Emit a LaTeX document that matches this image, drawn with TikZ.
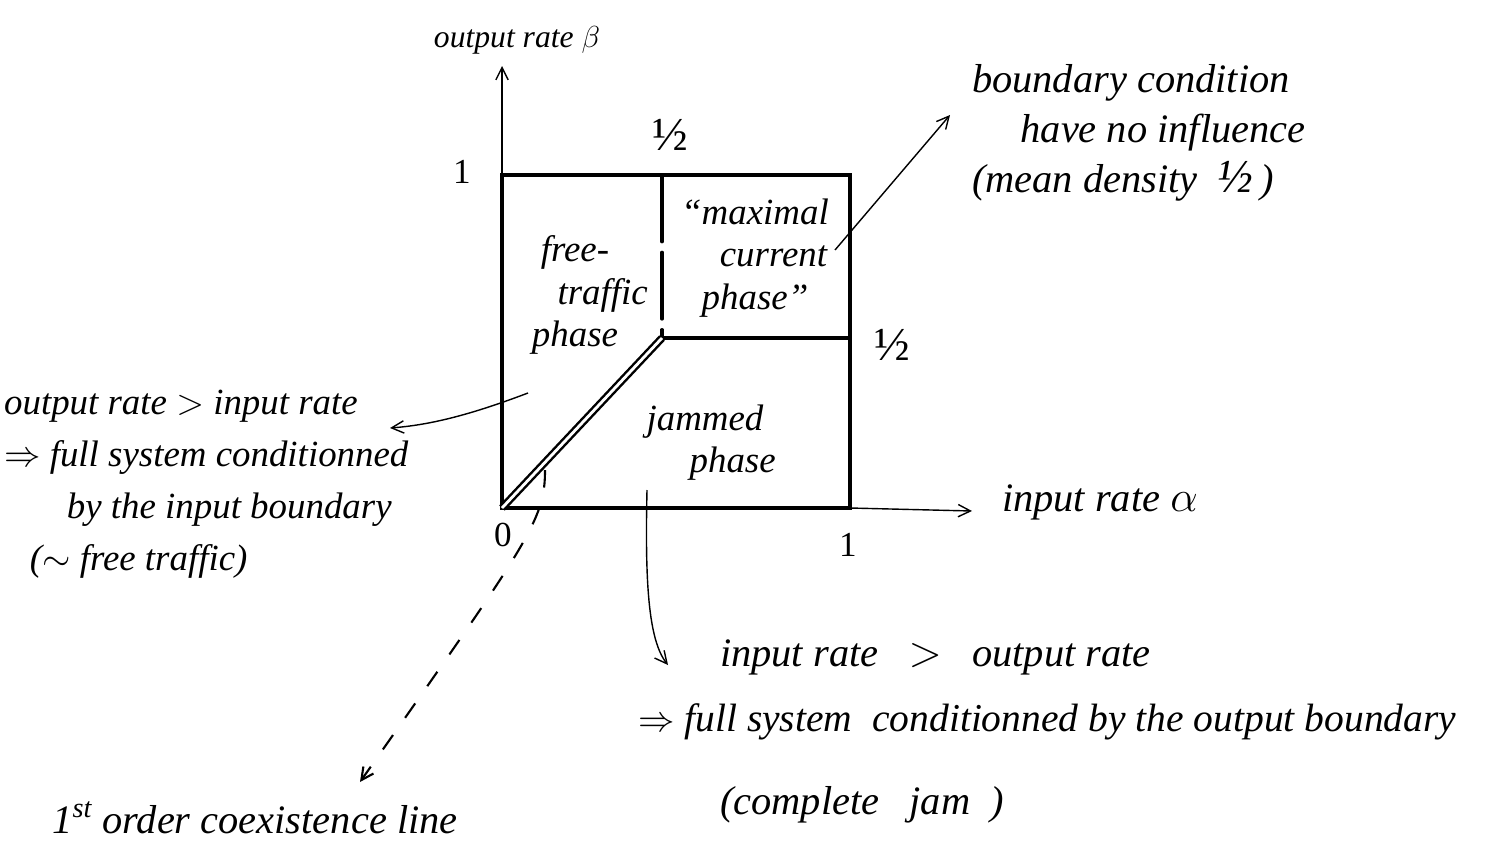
\documentclass[tikz,border=0pt]{standalone}
\usepackage{fontspec}
\setmainfont{Liberation Serif}
\usetikzlibrary{arrows.meta}
\begin{document}
\begin{tikzpicture}[x=0.02cm,y=-0.02cm,
  hand/.style={font=\itshape\fontsize{20}{24}\selectfont, inner sep=1pt},
  big/.style={font=\itshape\fontsize{23}{28}\selectfont, inner sep=1pt},
  tick/.style={font=\fontsize{20}{22}\selectfont, inner sep=1pt},
  halftick/.style={font=\fontsize{27}{30}\selectfont, inner sep=1pt},
  boxline/.style={line width=1.8pt, line cap=round},
  axis/.style={line width=0.8pt, -{Straight Barb[length=7pt,width=7pt]}},
  pointer/.style={line width=0.8pt, -{Straight Barb[length=7pt,width=7pt]}}]
\useasboundingbox (0,0) rectangle (1491,849);
% box corners
\coordinate (O) at (502,508);
\coordinate (TL) at (502,175);
\coordinate (TR) at (850,175);
\coordinate (BR) at (850,508);
\coordinate (M) at (662,338);
\coordinate (MT) at (662,175);
\coordinate (MR) at (850,338);
\coordinate (Ytip) at (502,66);
\coordinate (Xtip) at (972,511);
% axes
\draw[axis] (TL) -- (Ytip);
\draw[axis] (BR) -- (Xtip);
% box
\draw[boxline] (O) -- (TL) -- (TR) -- (BR) -- cycle;
\draw[boxline, dash pattern=on 38pt off 6pt] (MT) -- (M);
\draw[boxline] (M) -- (MR);
\draw[line width=1.4pt, double distance=1.6pt] (O) -- (M);
% labels on axes
\node[hand, font=\itshape\fontsize{18}{20}\selectfont] (ylab) at (517,40) {output rate $\beta$};
\node[big] (xlab) at (1100,502) {input rate $\alpha$};
\node[tick] (one y) at (462,172) {1};
\node[halftick] (half top) at (670,135) {½};
\node[halftick] (half right) at (892,345) {½};
\node[tick] (zero) at (503,535) {0};
\node[tick] (one x) at (848,545) {1};
% phases
\node[hand, align=center, font=\itshape\fontsize{21}{24}\selectfont] (free) at (575,295) {free-\\\hspace*{1.5em}traffic\\phase};
\node[hand, align=center, font=\itshape\fontsize{21}{24}\selectfont] (maxc) at (755,258) {``maximal\\\hspace*{1em}current\\phase''};
\node[hand, align=center, font=\itshape\fontsize{21}{24}\selectfont] (jam) at (705,443) {jammed\\\hspace*{1.5em}phase};
% annotations
\node[big, align=left, anchor=north west, font=\itshape\fontsize{23}{28.5}\selectfont] (bc) at (970,62) {boundary condition\\\hspace*{1.2em}have no influence\\(mean density \ {\fontsize{27}{28}\selectfont ½}\,)};
\node[hand, align=left, anchor=north west, font=\itshape\fontsize{21}{29.5}\selectfont] (left) at (2,388) {output rate $>$ input rate\\$\Rightarrow$ full system conditionned\\\hspace*{1.7em}by the input boundary\\\hspace*{0.7em}($\sim$ free traffic)};
\node[big, anchor=west] (r1) at (718,657) {input rate \ \ $>$ \ \ output rate};
\node[big, anchor=west, font=\itshape\fontsize{22.5}{27}\selectfont] (r2) at (636,722) {$\Rightarrow$ full system \ conditionned by the output boundary};
\node[big, anchor=west] (r3) at (718,805) {(complete \ \ jam \ )};
\node[big] (coex) at (255,818) {1\textsuperscript{st} order coexistence line};
% pointers
\coordinate (fp) at (528,393);
\coordinate (fl) at (390,428);
\draw[pointer] (fp) .. controls (470,415) and (430,425) .. (fl);
\coordinate (mp) at (835,250);
\coordinate (mt) at (950,115);
\draw[pointer] (mp) -- (mt);
\coordinate (jp) at (647,490);
\coordinate (jt) at (668,665);
\draw[pointer] (jp) .. controls (645,580) and (648,640) .. (jt);
\coordinate (cp) at (545,470);
\coordinate (ct) at (360,782);
\draw[line width=1.2pt, dash pattern=on 10pt off 12pt, -{Straight Barb[length=7pt,width=7pt]}] (cp) .. controls (545,520) and (530,540) .. (ct);
\end{tikzpicture}
\end{document}
